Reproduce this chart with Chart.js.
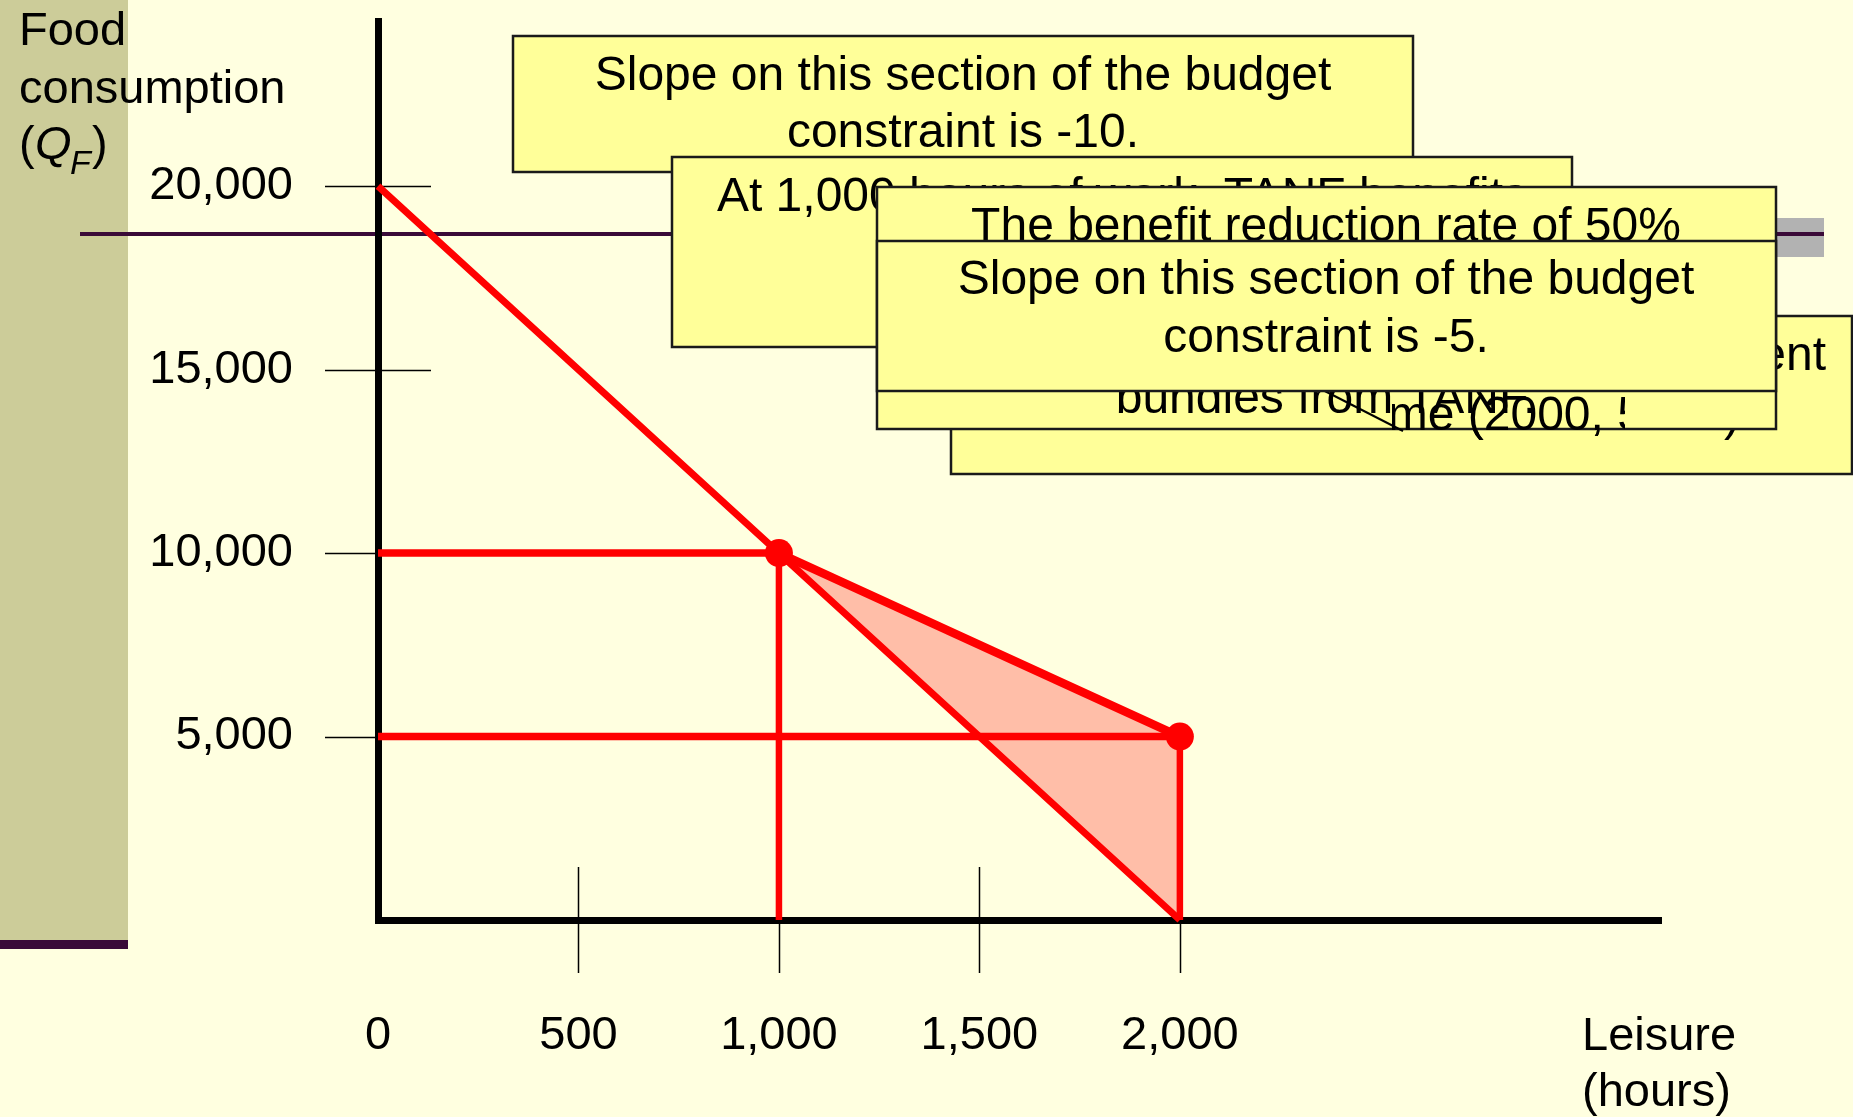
<!DOCTYPE html>
<html>
<head>
<meta charset="utf-8">
<script src="https://cdn.jsdelivr.net/npm/chart.js@4.4.0/dist/chart.umd.min.js"></script>
<style>
  html, body { margin: 0; padding: 0; background: #FFFFE0; }
  #wrap { width: 1853px; height: 1117px; position: relative; }
</style>
</head>
<body>
<div id="wrap"><canvas id="chart"></canvas></div>
<script>
// leisure hours (x) / food consumption (y)
var budgetLeisure = [0, 1000, 2000];
var budgetFood = [20000, 10000, 0];
var tanfLeisure = [1000, 2000];
var tanfFood = [10000, 5000];
var guideFood = [10000, 5000];      // horizontal guides back to the axis
var guideLeisure = [1000, 2000];    // vertical guides down to the axis
var xTickValues = [0, 500, 1000, 1500, 2000];
var yTickValues = [5000, 10000, 15000, 20000];

var FONT = "'Liberation Sans', Arial, sans-serif";
var RED = '#FF0000';

function pts(xs, ys) {
  return xs.map(function(x, i) { return { x: x, y: ys[i] }; });
}

function lineSet(data, width, extra) {
  var ds = {
    data: data, showLine: true, borderColor: RED, borderWidth: width,
    pointRadius: 0, fill: false, order: 1, clip: false
  };
  for (var k in extra) ds[k] = extra[k];
  return ds;
}

var datasets = [
  lineSet(pts(budgetLeisure, budgetFood), 7),
  lineSet(pts(tanfLeisure, tanfFood), 8.5, { fill: '-1', backgroundColor: 'rgb(255,190,168)', order: 10 }),
  lineSet(pts([0, guideLeisure[0]], [guideFood[0], guideFood[0]]), 7.5),
  lineSet(pts([0, guideLeisure[1]], [guideFood[1], guideFood[1]]), 7.5),
  lineSet(pts([guideLeisure[0], guideLeisure[0]], [0, guideFood[0]]), 6.5),
  lineSet(pts([guideLeisure[1], guideLeisure[1]], [0, guideFood[1]]), 6.5),
  {
    data: pts(tanfLeisure, tanfFood), showLine: false, pointRadius: 14,
    pointBackgroundColor: RED, pointBorderWidth: 0, order: 0, clip: false
  }
];

// slide background, side strip and rule lines
var slideBackground = {
  id: 'slideBackground',
  beforeDraw: function(chart) {
    var ctx = chart.ctx;
    ctx.save();
    ctx.fillStyle = '#FFFFE0';
    ctx.fillRect(0, 0, chart.width, chart.height);
    ctx.fillStyle = '#CCCC99';
    ctx.fillRect(0, 0, 128, 940);
    ctx.fillStyle = '#3A0A38';
    ctx.fillRect(0, 940, 128, 9);
    ctx.fillStyle = '#B2B2B2';
    ctx.fillRect(1777, 218, 47, 39);
    ctx.fillStyle = '#3A0A38';
    ctx.fillRect(80, 232, 1744, 4);
    ctx.restore();
  }
};

// tick marks crossing the axes
var crossTicks = {
  id: 'crossTicks',
  beforeDatasetsDraw: function(chart) {
    var ctx = chart.ctx, xs = chart.scales.x, ys = chart.scales.y;
    var ax = chart.chartArea.left, ay = chart.chartArea.bottom;
    ctx.save();
    ctx.strokeStyle = '#000';
    ctx.lineWidth = 1.5;
    ctx.beginPath();
    yTickValues.forEach(function(v) {
      var py = Math.round(ys.getPixelForValue(v)) + 0.5;
      ctx.moveTo(ax - 53, py); ctx.lineTo(ax + 53, py);
    });
    xTickValues.forEach(function(v) {
      if (v === 0) return;
      var px = Math.round(xs.getPixelForValue(v)) + 0.5;
      ctx.moveTo(px, ay - 53); ctx.lineTo(px, ay + 53);
    });
    ctx.stroke();
    ctx.restore();
  }
};

function box(ctx, x1, y1, x2, y2) {
  ctx.fillStyle = '#FFFF99';
  ctx.fillRect(x1, y1, x2 - x1, y2 - y1);
  ctx.strokeStyle = '#1A1A1A';
  ctx.lineWidth = 2.5;
  ctx.strokeRect(x1, y1, x2 - x1, y2 - y1);
}

function txt(ctx, s, x, y, align, font) {
  ctx.font = font || ('48px ' + FONT);
  ctx.textAlign = align || 'center';
  ctx.textBaseline = 'alphabetic';
  ctx.fillStyle = '#000';
  ctx.fillText(s, x, y);
}

// axis titles and the overlapping call-out boxes
var slideText = {
  id: 'slideText',
  afterDraw: function(chart) {
    var ctx = chart.ctx;
    var f47 = '47px ' + FONT;
    ctx.save();
    txt(ctx, 'Food', 19, 45, 'left', f47);
    txt(ctx, 'consumption', 19, 103, 'left', f47);
    txt(ctx, '(', 19, 159, 'left', f47);
    txt(ctx, 'Q', 35, 159, 'left', 'italic 47px ' + FONT);
    txt(ctx, 'F', 70, 174, 'left', 'italic 34px ' + FONT);
    txt(ctx, ')', 92, 159, 'left', f47);
    txt(ctx, 'Leisure', 1582, 1050, 'left', f47);
    txt(ctx, '(hours)', 1582, 1106, 'left', f47);

    box(ctx, 513, 36, 1413, 172);
    txt(ctx, 'Slope on this section of the budget', 963, 90);
    txt(ctx, 'constraint is -10.', 963, 147);

    box(ctx, 672, 157, 1572, 347);
    txt(ctx, 'At 1,000 hours of work, TANF benefits', 1122, 211);

    box(ctx, 951, 316, 1852, 474);
    ctx.save();
    ctx.beginPath(); ctx.rect(951, 316, 901, 158); ctx.clip();
    txt(ctx, 'The TANF recipient gets different', 1826, 370, 'right');
    txt(ctx, 'bundles of leisure time (2000, 5000)', 1740, 430, 'right');
    ctx.restore();

    box(ctx, 877, 187, 1776, 429);
    txt(ctx, 'The benefit reduction rate of 50%', 1326, 241);
    txt(ctx, 'bundles from TANF.', 1326, 413);

    // part of the lower line of the box behind shows through here
    ctx.save();
    ctx.beginPath();
    ctx.moveTo(1392, 391); ctx.lineTo(1625, 391); ctx.lineTo(1625, 445);
    ctx.lineTo(1392, 445);
    ctx.closePath(); ctx.clip();
    txt(ctx, 'bundles of leisure time (2000, 5000)', 1740, 430, 'right');
    ctx.restore();
    ctx.strokeStyle = '#000';
    ctx.lineWidth = 2;
    ctx.beginPath(); ctx.moveTo(1315, 386); ctx.lineTo(1403, 431); ctx.stroke();

    box(ctx, 877, 241, 1776, 391);
    txt(ctx, 'Slope on this section of the budget', 1326, 294);
    txt(ctx, 'constraint is -5.', 1326, 352);
    ctx.restore();
  }
};

var tickFont = { family: FONT, size: 47 };

new Chart(document.getElementById('chart'), {
  type: 'scatter',
  data: { datasets: datasets },
  options: {
    responsive: true,
    maintainAspectRatio: false,
    animation: false,
    events: [],
    layout: { padding: { top: 21, right: 192, left: 0, bottom: 0 } },
    plugins: { legend: { display: false }, tooltip: { enabled: false } },
    scales: {
      x: {
        type: 'linear', position: 'bottom', min: 0, max: 3200,
        grid: { display: false, drawTicks: false },
        border: { display: true, color: '#000', width: 7 },
        ticks: {
          font: tickFont, color: '#000', padding: 88, maxRotation: 0, autoSkip: false,
          callback: function(v) { return v.toLocaleString('en-US'); }
        },
        afterBuildTicks: function(s) { s.ticks = xTickValues.map(function(v) { return { value: v }; }); },
        afterFit: function(s) { s.height = 197; s.paddingLeft = 0; s.paddingRight = 0; }
      },
      y: {
        type: 'linear', position: 'left', min: 0, max: 24500,
        grid: { display: false, drawTicks: false },
        border: { display: true, color: '#000', width: 7 },
        ticks: {
          font: tickFont, color: '#000', padding: 85, autoSkip: false,
          callback: function(v) { return v.toLocaleString('en-US'); }
        },
        afterBuildTicks: function(s) { s.ticks = yTickValues.map(function(v) { return { value: v }; }); },
        afterFit: function(s) { s.width = 378; s.paddingTop = 0; s.paddingBottom = 0; }
      }
    }
  },
  plugins: [slideBackground, crossTicks, slideText]
});
</script>
</body>
</html>
